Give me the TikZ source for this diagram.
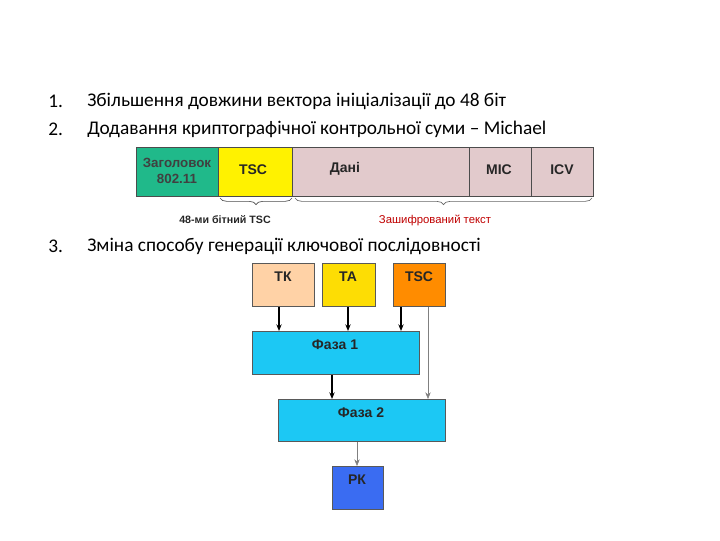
\documentclass[tikz,border=0pt]{standalone}
\usepackage{fontspec}
\setmainfont{Carlito}
\newfontfamily\arl{Liberation Sans}
\usetikzlibrary{decorations.pathreplacing,arrows.meta}
\definecolor{cy}{HTML}{1CC8F4}
\definecolor{pkb}{HTML}{3A6CF2}
\definecolor{pnk}{HTML}{E2CACC}
\definecolor{grn}{HTML}{20B98A}
\begin{document}
\begin{tikzpicture}[x=0.75pt,y=-0.75pt,
  bx/.style={draw=gray!70!black,line width=0.6pt},
  lb/.style={font=\arl\bfseries\fontsize{10.5}{12}\selectfont,text=black!85},
  txt/.style={anchor=west,font=\fontsize{14.5}{16}\selectfont,inner sep=0pt},
  arr/.style={-{Stealth[length=5pt,width=4pt]},line width=0.8pt},
  garr/.style={-{Stealth[length=5pt,width=4pt]},line width=0.4pt,draw=gray}]
\useasboundingbox (0,0) rectangle (720,540);
\node[txt] (n1) at (48,101) {1.};
\node[txt] (t1) at (87,101) {Збільшення довжини вектора ініціалізації до 48 біт};
\node[txt] (n2) at (48,129) {2.};
\node[txt] (t2) at (87,129) {Додавання криптографічної контрольної суми – Michael};
\node[txt] (n3) at (48,246) {3.};
\node[txt] (t3) at (87,246) {Зміна способу генерації ключової послідовності};
% packet
\fill[grn] (136,147) rectangle (218,196);
\fill[yellow] (218,147) rectangle (292,196);
\fill[pnk] (292,147) rectangle (593,196);
\draw[gray!60!black,line width=0.4pt] (136,147) rectangle (593,196) (218,147)--(218,196) (292,147)--(292,196) (469,147)--(469,196) (531,147)--(531,196);
\node[lb,align=center,font=\arl\bfseries\fontsize{10}{12}\selectfont,text=black!75] (hdr) at (177,171) {Заголовок\\802.11};
\node[lb] (tsc0) at (253,170) {TSC};
\node[lb] (dat) at (345,169) {Дані};
\node[lb] (mic) at (499,170) {MIC};
\node[lb] (icv) at (562,170) {ICV};
\draw[decorate,decoration={brace,mirror,amplitude=5pt},line width=0.5pt,draw=black!70] (220,198) -- (292,198);
\draw[decorate,decoration={brace,mirror,amplitude=5pt},line width=0.5pt,draw=black!60] (295,198) -- (592,198);
\node[lb,font=\arl\bfseries\fontsize{8}{9}\selectfont] (b1) at (225,220) {48-ми бітний TSC};
\node[font=\arl\fontsize{8.5}{9}\selectfont,text=red!75!black] (b2) at (435,220) {Зашифрований текст};
% key mixing
\node[bx,fill=orange!35!white,minimum width=62pt*0.75,minimum height=43pt*0.75,anchor=north west,inner sep=0pt] (tk) at (252,263) {};
\node[lb] at (283,277) {ТК};
\node[bx,fill=yellow!80!orange,minimum width=53pt*0.75,minimum height=43pt*0.75,anchor=north west,inner sep=0pt] (ta) at (322,263) {};
\node[lb] at (348,277) {ТА};
\node[bx,fill=orange!90!yellow,minimum width=52pt*0.75,minimum height=43pt*0.75,anchor=north west,inner sep=0pt] (tsc) at (393,263) {};
\node[lb] at (419,277) {TSC};
\node[bx,fill=cy,minimum width=167pt*0.75,minimum height=43pt*0.75,anchor=north west,inner sep=0pt] (p1) at (252,331) {};
\node[lb] at (335,345) {Фаза 1};
\node[bx,fill=cy,minimum width=167pt*0.75,minimum height=42pt*0.75,anchor=north west,inner sep=0pt] (p2) at (278,399) {};
\node[lb] at (361,413) {Фаза 2};
\node[bx,fill=pkb,minimum width=51pt*0.75,minimum height=43pt*0.75,anchor=north west,inner sep=0pt] (pk) at (332,466) {};
\node[lb] at (357,480) {РК};
\draw[arr] (tk.south -| 279,0) -- (p1.north -| 279,0);
\draw[arr] (ta.south -| 348,0) -- (p1.north -| 348,0);
\draw[arr] (tsc.south -| 401,0) -- (p1.north -| 401,0);
\draw[arr] (p1.south -| 332,0) -- (p2.north -| 332,0);
\draw[garr] (tsc.south -| 428,0) -- (p2.north -| 428,0);
\draw[garr] (p2.south -| 357,0) -- (pk.north -| 357,0);
\end{tikzpicture}
\end{document}
